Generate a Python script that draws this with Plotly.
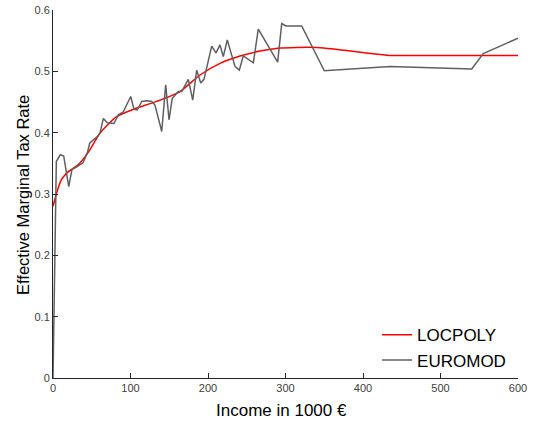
import plotly.graph_objects as go

euromod_x = [0, 4.3, 9.4, 13.8, 20.3, 24.5, 30.1, 38.7, 44.3, 47.4, 51.6, 56.8, 60.6, 64.9, 70.1, 78.7,
             84.3, 90.7, 100.3, 104.5, 108.8, 114.5, 120.9, 127.4, 131.6, 140.3, 145.4, 149.7, 153.9,
             161.7, 166.1, 174.6, 180.3, 185.4, 190.6, 194.8, 204.8, 210.3, 215.5, 219.7, 224.9, 234.8,
             240.4, 245.5, 258.5, 264.9, 289.9, 295.1, 300.6, 320.9, 350.1, 434.8, 540.3, 555.2, 600]
euromod_y = [0.0, 0.353, 0.364, 0.362, 0.312, 0.340, 0.344, 0.351, 0.367, 0.383, 0.388, 0.393, 0.399,
             0.423, 0.416, 0.415, 0.429, 0.434, 0.459, 0.438, 0.437, 0.451, 0.452, 0.451, 0.445, 0.402,
             0.478, 0.421, 0.456, 0.467, 0.467, 0.487, 0.453, 0.502, 0.481, 0.487, 0.541, 0.530, 0.543,
             0.524, 0.551, 0.508, 0.502, 0.525, 0.514, 0.569, 0.515, 0.578, 0.574, 0.574, 0.501, 0.508,
             0.504, 0.529, 0.554]

locpoly_x = [0, 5, 10.7, 19.4, 32, 45, 60.6, 82, 103.6, 133.8, 163.9, 189.7, 215.5, 241.3, 267, 292.9,
             314, 340, 379, 410, 434.8, 500, 600]
locpoly_y = [0.280, 0.303, 0.323, 0.336, 0.347, 0.367, 0.399, 0.426, 0.438, 0.451, 0.467, 0.494, 0.513,
             0.525, 0.533, 0.538, 0.539, 0.539, 0.534, 0.529, 0.526, 0.526, 0.526]

x_ticks = [0, 100, 200, 300, 400, 500, 600]
y_ticks = [0, 0.1, 0.2, 0.3, 0.4, 0.5, 0.6]
y_tick_text = ["0", "0.1", "0.2", "0.3", "0.4", "0.5", "0.6"]

fig = go.Figure()
fig.add_trace(go.Scatter(x=locpoly_x, y=locpoly_y, mode="lines", name="LOCPOLY",
                         line=dict(color="#ff0000", width=1.5, shape="spline", smoothing=0.6)))
fig.add_trace(go.Scatter(x=euromod_x, y=euromod_y, mode="lines", name="EUROMOD",
                         line=dict(color="#5f5f5f", width=1.5)))

axis_color = "#262626"
fig.update_layout(
    width=533, height=424,
    margin=dict(l=53, r=15, t=10, b=46, autoexpand=False),
    paper_bgcolor="white", plot_bgcolor="white",
    font=dict(family="Liberation Sans, Arial, sans-serif", color=axis_color),
    showlegend=True,
    legend=dict(x=0.697, y=0.165, xanchor="left", yanchor="top",
                bgcolor="rgba(255,255,255,0)", font=dict(size=17, color="#000000"),
                tracegroupgap=0),
    annotations=[
        dict(text="Income in 1000 €", xref="paper", yref="paper", x=(281 - 53) / 465,
             y=-(410 - 378) / 368, xanchor="center", yanchor="middle", showarrow=False,
             font=dict(size=17, color="#000000")),
        dict(text="Effective Marginal Tax Rate", xref="paper", yref="paper", x=-(53 - 23) / 465,
             y=(378 - 195) / 368, xanchor="center", yanchor="middle", showarrow=False,
             textangle=-90, font=dict(size=16.5, color="#000000")),
    ],
)
fig.update_xaxes(range=[0, 600], tickvals=x_ticks, ticks="inside", ticklen=5, tickcolor=axis_color,
                 showline=True, linecolor=axis_color, linewidth=1, showgrid=False, zeroline=False,
                 automargin=False, tickfont=dict(size=11, color="#404040"))
fig.update_yaxes(range=[0, 0.6], tickvals=y_ticks, ticktext=y_tick_text, ticks="inside", ticklen=5,
                 tickcolor=axis_color, showline=True, linecolor=axis_color, linewidth=1,
                 showgrid=False, zeroline=False, automargin=False,
                 tickfont=dict(size=11, color="#404040"))

fig.write_html("out.html")
